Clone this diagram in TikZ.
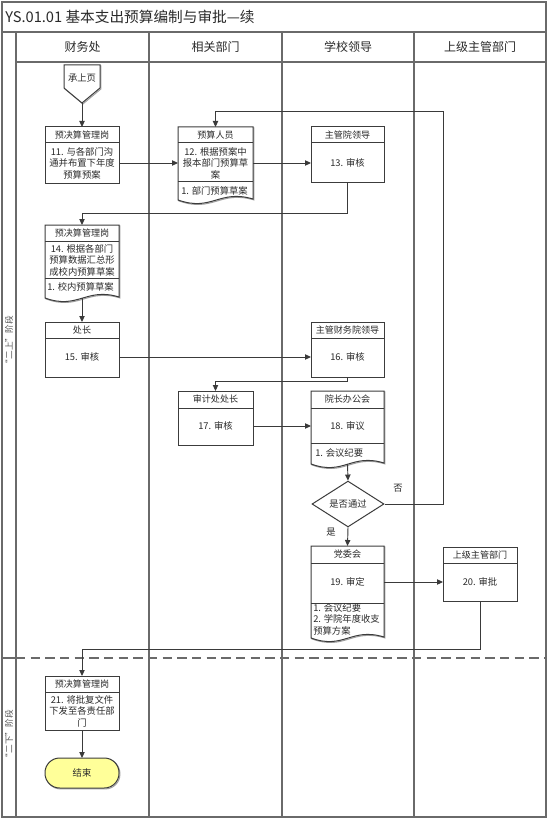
\documentclass[tikz,border=0pt]{standalone}
\usepackage{fontspec}
\setmainfont{Noto Sans CJK SC}
\usetikzlibrary{arrows.meta,shapes.geometric,fit,calc}
\definecolor{framegray}{HTML}{6A6A6A}
\definecolor{boxgray}{HTML}{3C3C3C}
\definecolor{linegray}{HTML}{3A3A3A}
\definecolor{txtgray}{HTML}{2A2A2A}
\definecolor{termyellow}{HTML}{FFFF99}
\begin{document}
\begin{tikzpicture}[x=0.75pt,y=-0.75pt,
  frameline/.style={draw=framegray, line width=1.2pt},
  boxline/.style={draw=boxgray, line width=0.75pt, fill=white,
    preaction={draw=gray!75, line width=0.75pt, transform canvas={xshift=0.7pt,yshift=-0.7pt}}},
  sepline/.style={draw=boxgray, line width=0.75pt},
  fitbox/.style={inner sep=0pt, outer sep=0pt},
  hdr/.style={font=\fontsize{6.8}{8}\selectfont, text=txtgray, inner sep=0pt},
  txt/.style={font=\fontsize{7}{8.6}\selectfont, align=center, text=txtgray, inner sep=0pt},
  doctxt/.style={font=\fontsize{7}{8.6}\selectfont, align=left, text=txtgray, inner sep=0pt},
  lanehdr/.style={font=\fontsize{9}{11}\selectfont, text=txtgray, inner sep=0pt},
  side/.style={font=\fontsize{6.5}{8}\selectfont, text=txtgray!80, inner sep=0pt, rotate=90},
  arr/.style={draw=linegray, line width=0.7pt, -{Triangle[length=4.5pt,width=4pt]}},
  dia/.style={diamond, draw=boxgray, line width=0.75pt, fill=white, minimum width=54pt, minimum height=28.5pt, inner sep=0pt, font=\fontsize{7}{8.6}\selectfont, text=txtgray},
  termline/.style={draw=boxgray, line width=0.75pt, fill=termyellow, rounded corners=11pt,
    preaction={draw=gray!75, line width=0.75pt, rounded corners=11pt, transform canvas={xshift=0.7pt,yshift=-0.7pt}}}
]
\useasboundingbox (0,0) rectangle (550,820);
\fill[white] (0,0) rectangle (550,820);

% ---- frame / swimlanes ----
\draw[frameline] (2,2) rectangle (546,817);
\draw[frameline] (2,32) -- (546,32);
\draw[frameline] (16,62) -- (546,62);
\foreach \xx in {16,149,282,414} \draw[frameline] (\xx,32) -- (\xx,817);
\draw[framegray, line width=1.2pt] (2,658) -- (16,658);
\draw[framegray, line width=1pt, dash pattern=on 7pt off 4pt] (16,658) -- (546,658);

\node[anchor=west, font=\fontsize{11}{13}\selectfont, text=txtgray, inner sep=0pt] (title) at (5,17) {YS.01.01 基本支出预算编制与审批—续};
\node[lanehdr] (h1) at (82.5,47) {财务处};
\node[lanehdr] (h2) at (215.5,47) {相关部门};
\node[lanehdr] (h3) at (348,47) {学校领导};
\node[lanehdr] (h4) at (480,47) {上级主管部门};
\node[side] (p1) at (9,342) {“二上”阶段};
\node[side] (p2) at (9,736) {“二下”阶段};

% ---- off-page connector ----
\draw[boxline] (64,65) -- (100,65) -- (100,88) -- (82,103) -- (64,88) -- cycle;
\node[txt] (cont) at (82,78) {承上页};
\coordinate (contTip) at (82,103);

% ---- box 11 ----
\draw[boxline] (45,127) rectangle (119,183);
\node[fitbox, fit={(45,127)(119,183)}] (b11) {};
\draw[sepline] (45,143) -- (119,143);
\node[hdr] (b11h) at (82,135) {预决算管理岗};
\node[txt] (b11t) at (82,163) {11. 与各部门沟\\通并布置下年度\\预算预案};

% ---- box 12 (document) ----
\draw[boxline] (253,127) -- (178,127) -- (178,200) .. controls (212,212) and (219,189) .. (253,199) -- cycle;
\node[fitbox, fit={(178,127)(253,200)}] (b12) {};
\draw[sepline] (178,143) -- (253,143);
\draw[sepline] (178,181) -- (253,181);
\node[hdr] (b12h) at (215.5,135) {预算人员};
\node[txt] (b12t) at (215.5,163) {12. 根据预案中\\报本部门预算草\\案};
\node[doctxt, anchor=west] (b12d) at (181,191) {1. 部门预算草案};

% ---- box 13 ----
\draw[boxline] (311,127) rectangle (384,182);
\node[fitbox, fit={(311,127)(384,182)}] (b13) {};
\draw[sepline] (311,143) -- (384,143);
\node[hdr] (b13h) at (347.5,135) {主管院领导};
\node[txt] (b13t) at (347.5,163) {13. 审核};

% ---- box 14 (document) ----
\draw[boxline] (119,225) -- (45,225) -- (45,298) .. controls (78,310) and (86,287) .. (119,297) -- cycle;
\node[fitbox, fit={(45,225)(119,298)}] (b14) {};
\draw[sepline] (45,241) -- (119,241);
\draw[sepline] (45,278) -- (119,278);
\node[hdr] (b14h) at (82,233) {预决算管理岗};
\node[txt] (b14t) at (82,260) {14. 根据各部门\\预算数据汇总形\\成校内预算草案};
\node[doctxt, anchor=west] (b14d) at (47,287) {1. 校内预算草案};

% ---- box 15 ----
\draw[boxline] (45,322) rectangle (119,377);
\node[fitbox, fit={(45,322)(119,377)}] (b15) {};
\draw[sepline] (45,338) -- (119,338);
\node[hdr] (b15h) at (82,330) {处长};
\node[txt] (b15t) at (82,357) {15. 审核};

% ---- box 16 ----
\draw[boxline] (311,322) rectangle (384,377);
\node[fitbox, fit={(311,322)(384,377)}] (b16) {};
\draw[sepline] (311,338) -- (384,338);
\node[hdr] (b16h) at (347.5,330) {主管财务院领导};
\node[txt] (b16t) at (347.5,357) {16. 审核};

% ---- box 17 ----
\draw[boxline] (178,391) rectangle (253,445);
\node[fitbox, fit={(178,391)(253,445)}] (b17) {};
\draw[sepline] (178,408) -- (253,408);
\node[hdr] (b17h) at (215.5,399.5) {审计处处长};
\node[txt] (b17t) at (215.5,426) {17. 审核};

% ---- box 18 (document) ----
\draw[boxline] (384,391) -- (311,391) -- (311,464) .. controls (344,476) and (351,453) .. (384,463) -- cycle;
\node[fitbox, fit={(311,391)(384,464)}] (b18) {};
\draw[sepline] (311,408) -- (384,408);
\draw[sepline] (311,443) -- (384,443);
\node[hdr] (b18h) at (347.5,399.5) {院长办公会};
\node[txt] (b18t) at (347.5,426) {18. 审议};
\node[doctxt, anchor=west] (b18d) at (315,453) {1. 会议纪要};

% ---- decision ----
\node[dia] (d) at (348,504) {是否通过};
\node[txt] (no) at (398,488) {否};
\node[txt] (yes) at (331,532) {是};
\coordinate (loopR) at (443,111);

% ---- box 19 (document) ----
\draw[boxline] (384,546) -- (311,546) -- (311,638) .. controls (344,650) and (351,627) .. (384,637) -- cycle;
\node[fitbox, fit={(311,546)(384,638)}] (b19) {};
\draw[sepline] (311,563) -- (384,563);
\draw[sepline] (311,603) -- (384,603);
\node[hdr] (b19h) at (347.5,554.5) {党委会};
\node[txt] (b19t) at (347.5,582) {19. 审定};
\node[doctxt, anchor=north west] (b19d) at (313,603) {1. 会议纪要\\2. 学院年度收支\\预算方案};

% ---- box 20 ----
\draw[boxline] (443,547) rectangle (517,601);
\node[fitbox, fit={(443,547)(517,601)}] (b20) {};
\draw[sepline] (443,563) -- (517,563);
\node[hdr] (b20h) at (480,555) {上级主管部门};
\node[txt] (b20t) at (480,582) {20. 审批};

% ---- box 21 ----
\draw[boxline] (45,676) rectangle (119,730);
\node[fitbox, fit={(45,676)(119,730)}] (b21) {};
\draw[sepline] (45,692) -- (119,692);
\node[hdr] (b21h) at (82,684) {预决算管理岗};
\node[txt] (b21t) at (82,711) {21. 将批复文件\\下发至各责任部\\门};

% ---- terminal ----
\draw[termline] (45,758) rectangle (119,788);
\node[fitbox, fit={(45,758)(119,788)}] (end) {};
\node[txt] (endt) at (end.center) {结束};

% ---- connectors ----
\draw[arr] (contTip) -- (b11.north);
\draw[arr] (b11t -| b11.east) -- (b11t -| b12.west);
\draw[arr] (b12t -| b12.east) -- (b12t -| b13.west);
\draw[arr] (b13.south) -- ++(0,31) -| (b14.north);
\draw[arr] (b14.south) -- (b15.north);
\draw[arr] (b15t -| b15.east) -- (b15t -| b16.west);
\draw[arr] (b16.south) -- ++(0,4) -| (b17.north);
\draw[arr] (b17t -| b17.east) -- (b17t -| b18.west);
\draw[arr] (b18.south) -- (d.north);
\draw[arr] (d.east) -| (loopR) -| (b12.north);
\draw[arr] (d.south) -- (b19.north);
\draw[arr] (b19t -| b19.east) -- (b19t -| b20.west);
\draw[arr] (b20.south) -- ++(0,48) -| (b21.north);
\draw[arr] (b21.south) -- (end.north);
\end{tikzpicture}
\end{document}
